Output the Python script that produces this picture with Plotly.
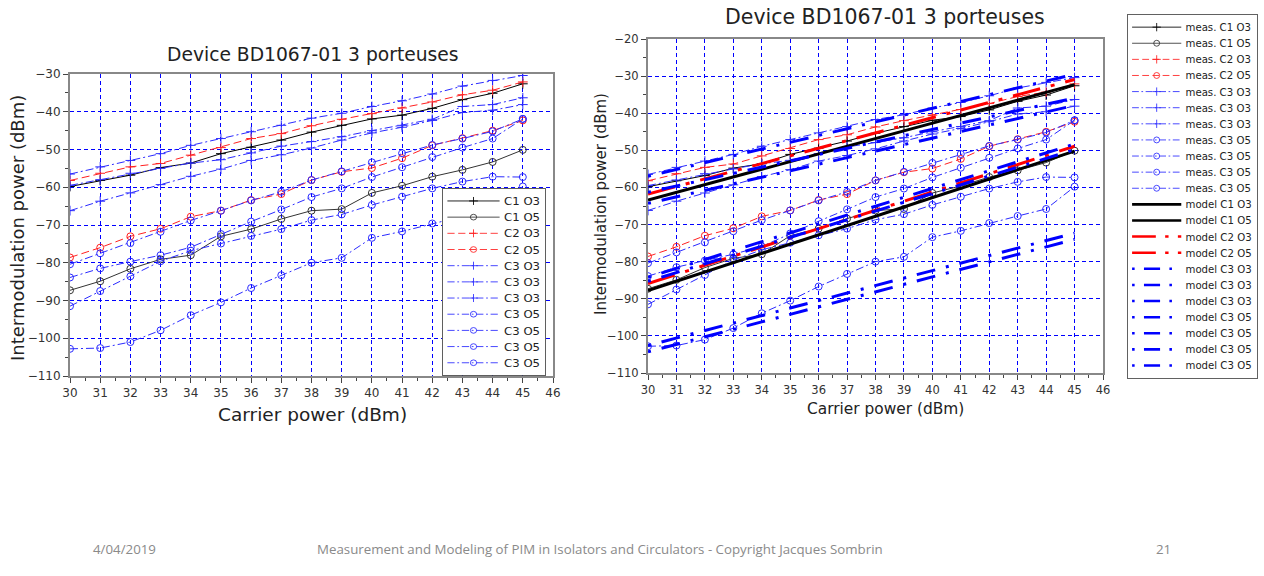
import plotly.graph_objects as go

# ---------------- data ----------------
carrier = [30, 31, 32, 33, 34, 35, 36, 37, 38, 39, 40, 41, 42, 43, 44, 45]

c1_o3 = [-59.8, -58.2, -56.8, -54.8, -53.6, -51.1, -49.4, -47.5, -45.4, -43.6, -41.9, -40.9, -39.1, -36.8, -35.1, -32.6]
c1_o5 = [-87.3, -84.9, -81.6, -79.1, -78.0, -73.0, -71.1, -68.4, -66.2, -65.8, -61.5, -59.6, -57.2, -55.4, -53.3, -50.1]
c2_o3 = [-58.2, -56.3, -54.6, -53.7, -51.5, -49.5, -47.1, -45.8, -43.7, -42.0, -40.5, -39.0, -37.4, -35.5, -34.3, -32.1]
c2_o5 = [-78.6, -76.0, -73.0, -71.0, -67.8, -66.2, -63.4, -61.8, -58.1, -55.9, -54.9, -52.3, -48.9, -47.0, -45.0, -42.3]
c3_o3_a = [-56.5, -54.6, -52.9, -51.1, -48.9, -47.1, -45.3, -43.6, -41.7, -40.4, -38.6, -37.1, -35.3, -33.2, -31.7, -30.4]
c3_o3_b = [-59.5, -58.0, -56.3, -55.0, -53.6, -52.7, -50.9, -49.1, -47.9, -46.6, -45.0, -43.6, -42.0, -38.6, -38.1, -36.3]
c3_o3_c = [-66.2, -63.7, -61.5, -59.3, -57.1, -55.2, -52.9, -51.4, -49.6, -47.5, -45.6, -44.1, -42.3, -40.2, -39.6, -38.1]
c3_o5_a = [-80.4, -77.5, -74.8, -71.8, -68.8, -66.2, -63.5, -61.2, -58.1, -55.8, -53.4, -51.0, -48.8, -47.1, -45.2, -41.9]
c3_o5_b = [-83.9, -81.5, -79.7, -78.0, -75.9, -72.4, -69.1, -65.9, -62.6, -60.3, -57.3, -54.7, -52.0, -49.5, -47.1, -41.9]
c3_o5_c = [-91.5, -87.5, -83.6, -79.6, -76.8, -74.9, -72.9, -71.1, -68.7, -67.2, -64.7, -62.5, -60.3, -58.5, -57.2, -57.3]
c3_o5_d = [-102.8, -102.6, -101.0, -97.9, -93.9, -90.5, -86.7, -83.3, -80.0, -78.7, -73.4, -71.7, -69.6, -67.7, -65.8, -59.8]

model_x = [30, 45]
model_c1_o3 = [-63.4, -32.3]
model_c1_o5 = [-87.8, -50.2]
model_c2_o3 = [-61.8, -30.9]
model_c2_o5 = [-85.9, -48.9]
model_c3_o3_a = [-57.0, -29.5]
model_c3_o3_b = [-61.3, -35.9]
model_c3_o3_c = [-64.3, -37.9]
model_c3_o5_a = [-84.2, -48.3]
model_c3_o5_b = [-85.3, -49.8]
model_c3_o5_c = [-102.6, -72.3]
model_c3_o5_d = [-104.3, -74.0]

xticks = list(range(30, 47))
title_text = "Device BD1067-01 3 porteuses"
ytitle = "Intermodulation power (dBm)"
xtitle = "Carrier power (dBm)"
footer_date = "4/04/2019"
footer_mid = "Measurement and Modeling of PIM in Isolators and Circulators - Copyright Jacques Sombrin"
footer_page = "21"

# ---------------- styles ----------------
W, H = 1264, 576
BLACK = "#000000"
RED = "#ff2020"
BLUE = "#2a2aff"
MBLUE = "#0000ff"
MRED = "#ff0000"
GRID = "#0000ff"
DASH_C2 = "8px,4px"
DASH_C3 = "8px,3px,2px,3px"
DASH_M2 = "28px,11px,4px,11px"
DASH_M3 = "3px,11px,19px,11px"

meas = [
    ("C1 O3", c1_o3, BLACK, "solid", "cross-thin-open"),
    ("C1 O5", c1_o5, "#333333", "solid", "circle-open"),
    ("C2 O3", c2_o3, RED, DASH_C2, "cross-thin-open"),
    ("C2 O5", c2_o5, RED, DASH_C2, "circle-open"),
    ("C3 O3", c3_o3_a, BLUE, DASH_C3, "cross-thin-open"),
    ("C3 O3", c3_o3_b, BLUE, DASH_C3, "cross-thin-open"),
    ("C3 O3", c3_o3_c, BLUE, DASH_C3, "cross-thin-open"),
    ("C3 O5", c3_o5_a, BLUE, DASH_C3, "circle-open"),
    ("C3 O5", c3_o5_b, BLUE, DASH_C3, "circle-open"),
    ("C3 O5", c3_o5_c, BLUE, DASH_C3, "circle-open"),
    ("C3 O5", c3_o5_d, BLUE, DASH_C3, "circle-open"),
]
models = [
    ("C1 O3", model_c1_o3, BLACK, "solid"),
    ("C1 O5", model_c1_o5, BLACK, "solid"),
    ("C2 O3", model_c2_o3, MRED, DASH_M2),
    ("C2 O5", model_c2_o5, MRED, DASH_M2),
    ("C3 O3", model_c3_o3_a, MBLUE, DASH_M3),
    ("C3 O3", model_c3_o3_b, MBLUE, DASH_M3),
    ("C3 O3", model_c3_o3_c, MBLUE, DASH_M3),
    ("C3 O5", model_c3_o5_a, MBLUE, DASH_M3),
    ("C3 O5", model_c3_o5_b, MBLUE, DASH_M3),
    ("C3 O5", model_c3_o5_c, MBLUE, DASH_M3),
    ("C3 O5", model_c3_o5_d, MBLUE, DASH_M3),
]

fig = go.Figure()

# left chart: measurements only
for name, ys, col, dash, sym in meas:
    fig.add_trace(go.Scatter(
        x=carrier, y=ys, name=name, mode="lines+markers",
        line=dict(color=col, width=1, dash=dash),
        marker=dict(symbol=sym, size=7, color=col, line=dict(color=col, width=1)),
        xaxis="x", yaxis="y", legend="legend"))

# right chart: measurements + models
for name, ys, col, dash, sym in meas:
    fig.add_trace(go.Scatter(
        x=carrier, y=ys, name="meas. " + name, mode="lines+markers",
        line=dict(color=col, width=1, dash=dash),
        marker=dict(symbol=sym, size=7, color=col, line=dict(color=col, width=1)),
        xaxis="x2", yaxis="y2", legend="legend2"))
for name, ys, col, dash in models:
    fig.add_trace(go.Scatter(
        x=model_x, y=ys, name="model " + name, mode="lines",
        line=dict(color=col, width=3, dash=dash),
        xaxis="x2", yaxis="y2", legend="legend2"))


def px(x):
    return x / W


def py(y):
    return 1 - y / H


def axis_x(fs):
    return dict(range=[30, 46], tickmode="array", tickvals=xticks, ticks="outside",
                ticklen=5, tickcolor="#444", showline=True, linecolor="#888", linewidth=2,
                mirror=True, showgrid=True, gridcolor=GRID, griddash="4px,3px",
                gridwidth=1, zeroline=False,
                tickfont=dict(family="DejaVu Sans", size=fs, color="#333333"),
                minor=dict(dtick=0.5, ticks="outside", ticklen=3, tickcolor="#444",
                           showgrid=False, gridcolor=GRID))


def axis_y(fs, rng):
    return dict(range=rng, dtick=10, ticks="outside", ticklen=5, tickcolor="#444",
                showline=True, linecolor="#888", linewidth=2, mirror=True, showgrid=True,
                gridcolor=GRID, griddash="4px,3px", gridwidth=1, zeroline=False,
                tickfont=dict(family="DejaVu Sans", size=fs, color="#333333"),
                minor=dict(dtick=5, ticks="outside", ticklen=3, tickcolor="#444",
                           showgrid=False, gridcolor=GRID))


fig.update_layout(
    width=W, height=H, margin=dict(l=0, r=0, t=0, b=0, autoexpand=False),
    paper_bgcolor="white", plot_bgcolor="white",
    font=dict(family="DejaVu Sans", color="#222"),
    xaxis=dict(domain=[px(70), px(553)], anchor="y", **axis_x(12)),
    yaxis=dict(domain=[py(376), py(74)], anchor="x", **axis_y(12, [-110, -30])),
    xaxis2=dict(domain=[px(648), px(1103)], anchor="y2", **axis_x(11.5)),
    yaxis2=dict(domain=[py(373), py(39)], anchor="x2", **axis_y(11.5, [-110, -20])),
    legend=dict(x=px(442), y=py(188), xanchor="left", yanchor="top",
                bgcolor="white", bordercolor="#444", borderwidth=1,
                font=dict(family="DejaVu Sans", size=13, color="#222"),
                tracegroupgap=0, itemwidth=58),
    legend2=dict(x=1.0, y=py(14), xanchor="right", yanchor="top",
                 bgcolor="white", bordercolor="#444", borderwidth=1,
                 font=dict(family="DejaVu Sans", size=12, color="#222"),
                 tracegroupgap=0, itemwidth=58),
    showlegend=True,
)

ann = []
ann.append(dict(x=px(313), y=py(54), text=title_text, showarrow=False,
                font=dict(size=18.7, color="#222"), xanchor="center", yanchor="middle"))
ann.append(dict(x=px(885), y=py(17), text=title_text, showarrow=False,
                font=dict(size=20.5, color="#222"), xanchor="center", yanchor="middle"))
ann.append(dict(x=px(18), y=py(228), text=ytitle, showarrow=False, textangle=-90,
                font=dict(size=18, color="#222"), xanchor="center", yanchor="middle"))
ann.append(dict(x=px(601), y=py(204), text=ytitle, showarrow=False, textangle=-90,
                font=dict(size=15, color="#222"), xanchor="center", yanchor="middle"))
ann.append(dict(x=px(312), y=py(414), text=xtitle, showarrow=False,
                font=dict(size=18.5, color="#222"), xanchor="center", yanchor="middle"))
ann.append(dict(x=px(885), y=py(409), text=xtitle, showarrow=False,
                font=dict(size=15.4, color="#222"), xanchor="center", yanchor="middle"))
footfont = dict(family="Open Sans", size=13.3, color="#8a8a8a")
ann.append(dict(x=px(124), y=py(549), text=footer_date, showarrow=False, font=footfont,
                xanchor="center", yanchor="middle"))
ann.append(dict(x=px(600), y=py(549), text=footer_mid, showarrow=False, font=footfont,
                xanchor="center", yanchor="middle"))
ann.append(dict(x=px(1163), y=py(549), text=footer_page, showarrow=False, font=footfont,
                xanchor="center", yanchor="middle"))
for a in ann:
    a["xref"] = "paper"
    a["yref"] = "paper"
fig.update_layout(annotations=ann)

# compact the two legends so that their rows are as tight as in the reference
post_js = r"""
document.body.style.margin='0';document.body.style.overflow='hidden';
var gd=document.getElementById('{plot_id}');
function scaleLegends(){
  var cfg={'legend':[0.9,0.813,null],'legend2':[0.848,0.848,1127]};
  var groups=gd.querySelectorAll('.infolayer > g');
  for(var i=0;i<groups.length;i++){
    var g=groups[i];
    var cls=g.getAttribute('class')||'';
    if(cfg.hasOwnProperty(cls)){
      var t=(g.getAttribute('transform')||'').replace(/\s*scale\([^)]*\)/,'');
      var m=/translate\(\s*([-\d.eE]+)[ ,]+([-\d.eE]+)\s*\)/.exec(t);
      if(m){
        var tx=cfg[cls][2]===null?parseFloat(m[1]):cfg[cls][2];
        t='translate('+tx+','+m[2]+')';
      }
      g.setAttribute('transform',t+' scale('+cfg[cls][0]+','+cfg[cls][1]+')');
    }
  }
}
scaleLegends();
gd.on('plotly_afterplot',scaleLegends);
"""

fig.write_html("out.html", post_script=post_js, config={"displayModeBar": False})
